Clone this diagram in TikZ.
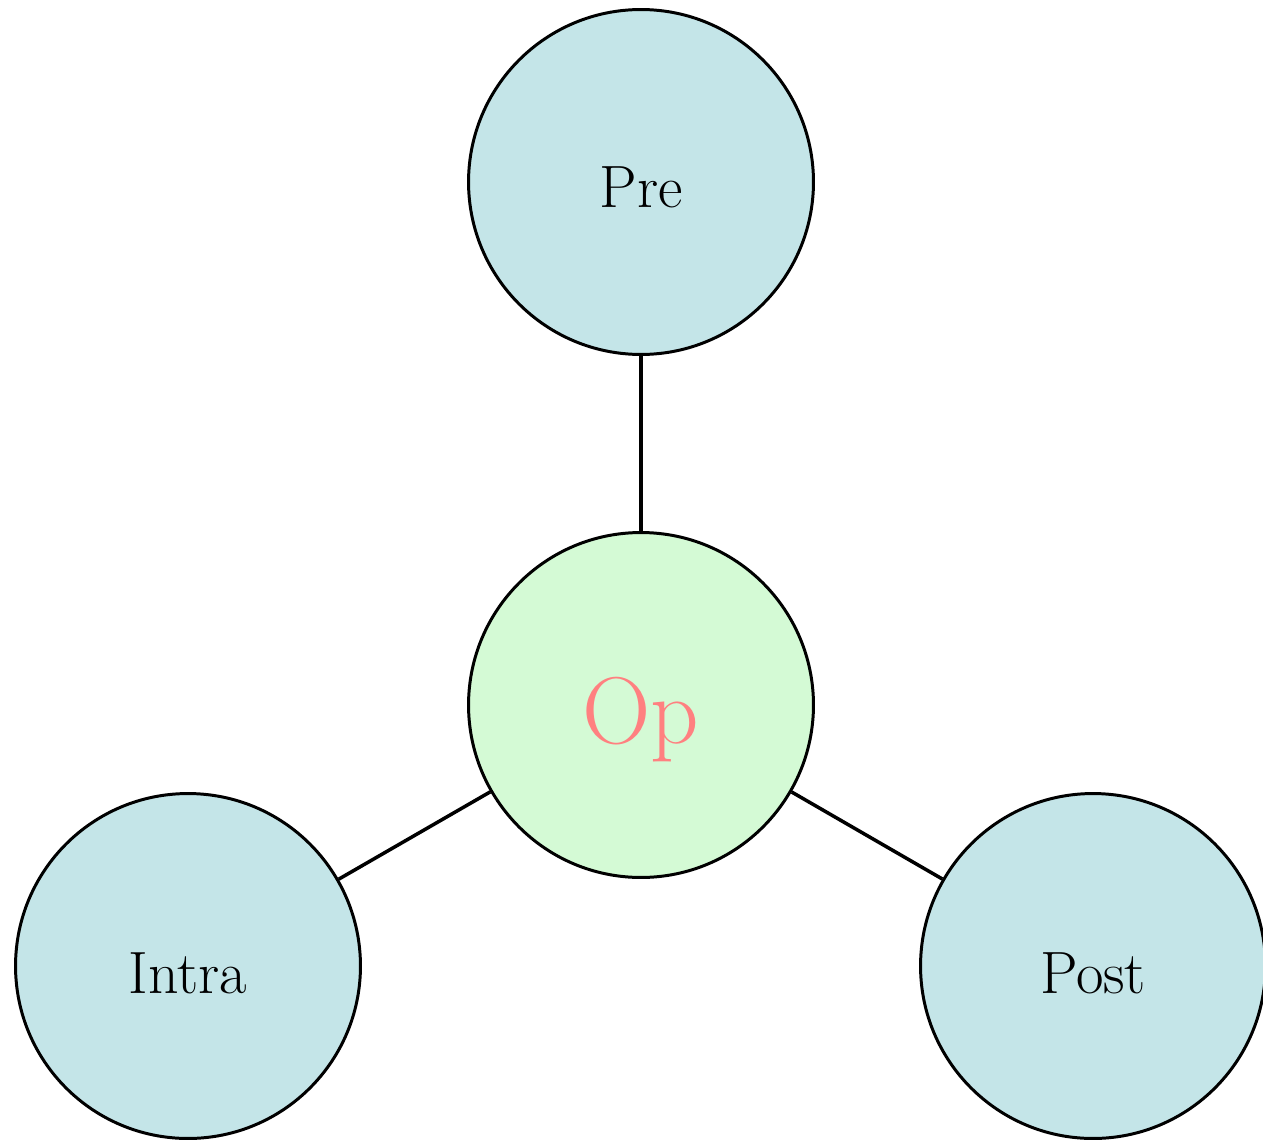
\documentclass[tikz,border=0pt]{standalone}
\definecolor{phasefill}{HTML}{C4E5E8}
\definecolor{opfill}{HTML}{D4FAD5}
\definecolor{optext}{HTML}{FF8080}
% label text with its baseline set a given distance below the circle centre
\newcommand{\lowered}[2]{\raisebox{-#1}{#2}}
\begin{document}
\begin{tikzpicture}[x=0.02cm,y=-0.02cm,
  phase/.style={circle,draw=black,line width=1.7pt,fill=phasefill,
    minimum size=6.9cm,inner sep=0pt,text height=0pt,text depth=0pt,
    font=\fontsize{34}{40}\selectfont},
  hub/.style={phase,fill=opfill,text=optext,font=\fontsize{54}{60}\selectfont},
  link/.style={line width=2pt}]
  \useasboundingbox (0,0) rectangle (1263,1142);
  \node[hub]   (op)    at (641,705) {\lowered{0.76cm}{Op}};
  \node[phase] (pre)   at (641,182) {\lowered{0.52cm}{Pre}};
  \node[phase] (intra) at (188,966) {\lowered{0.54cm}{Intra}};
  \node[phase] (post)  at (1093,966) {\lowered{0.54cm}{Post}};
  \draw[link] (op) -- (pre);
  \draw[link] (op) -- (intra);
  \draw[link] (op) -- (post);
\end{tikzpicture}
\end{document}
